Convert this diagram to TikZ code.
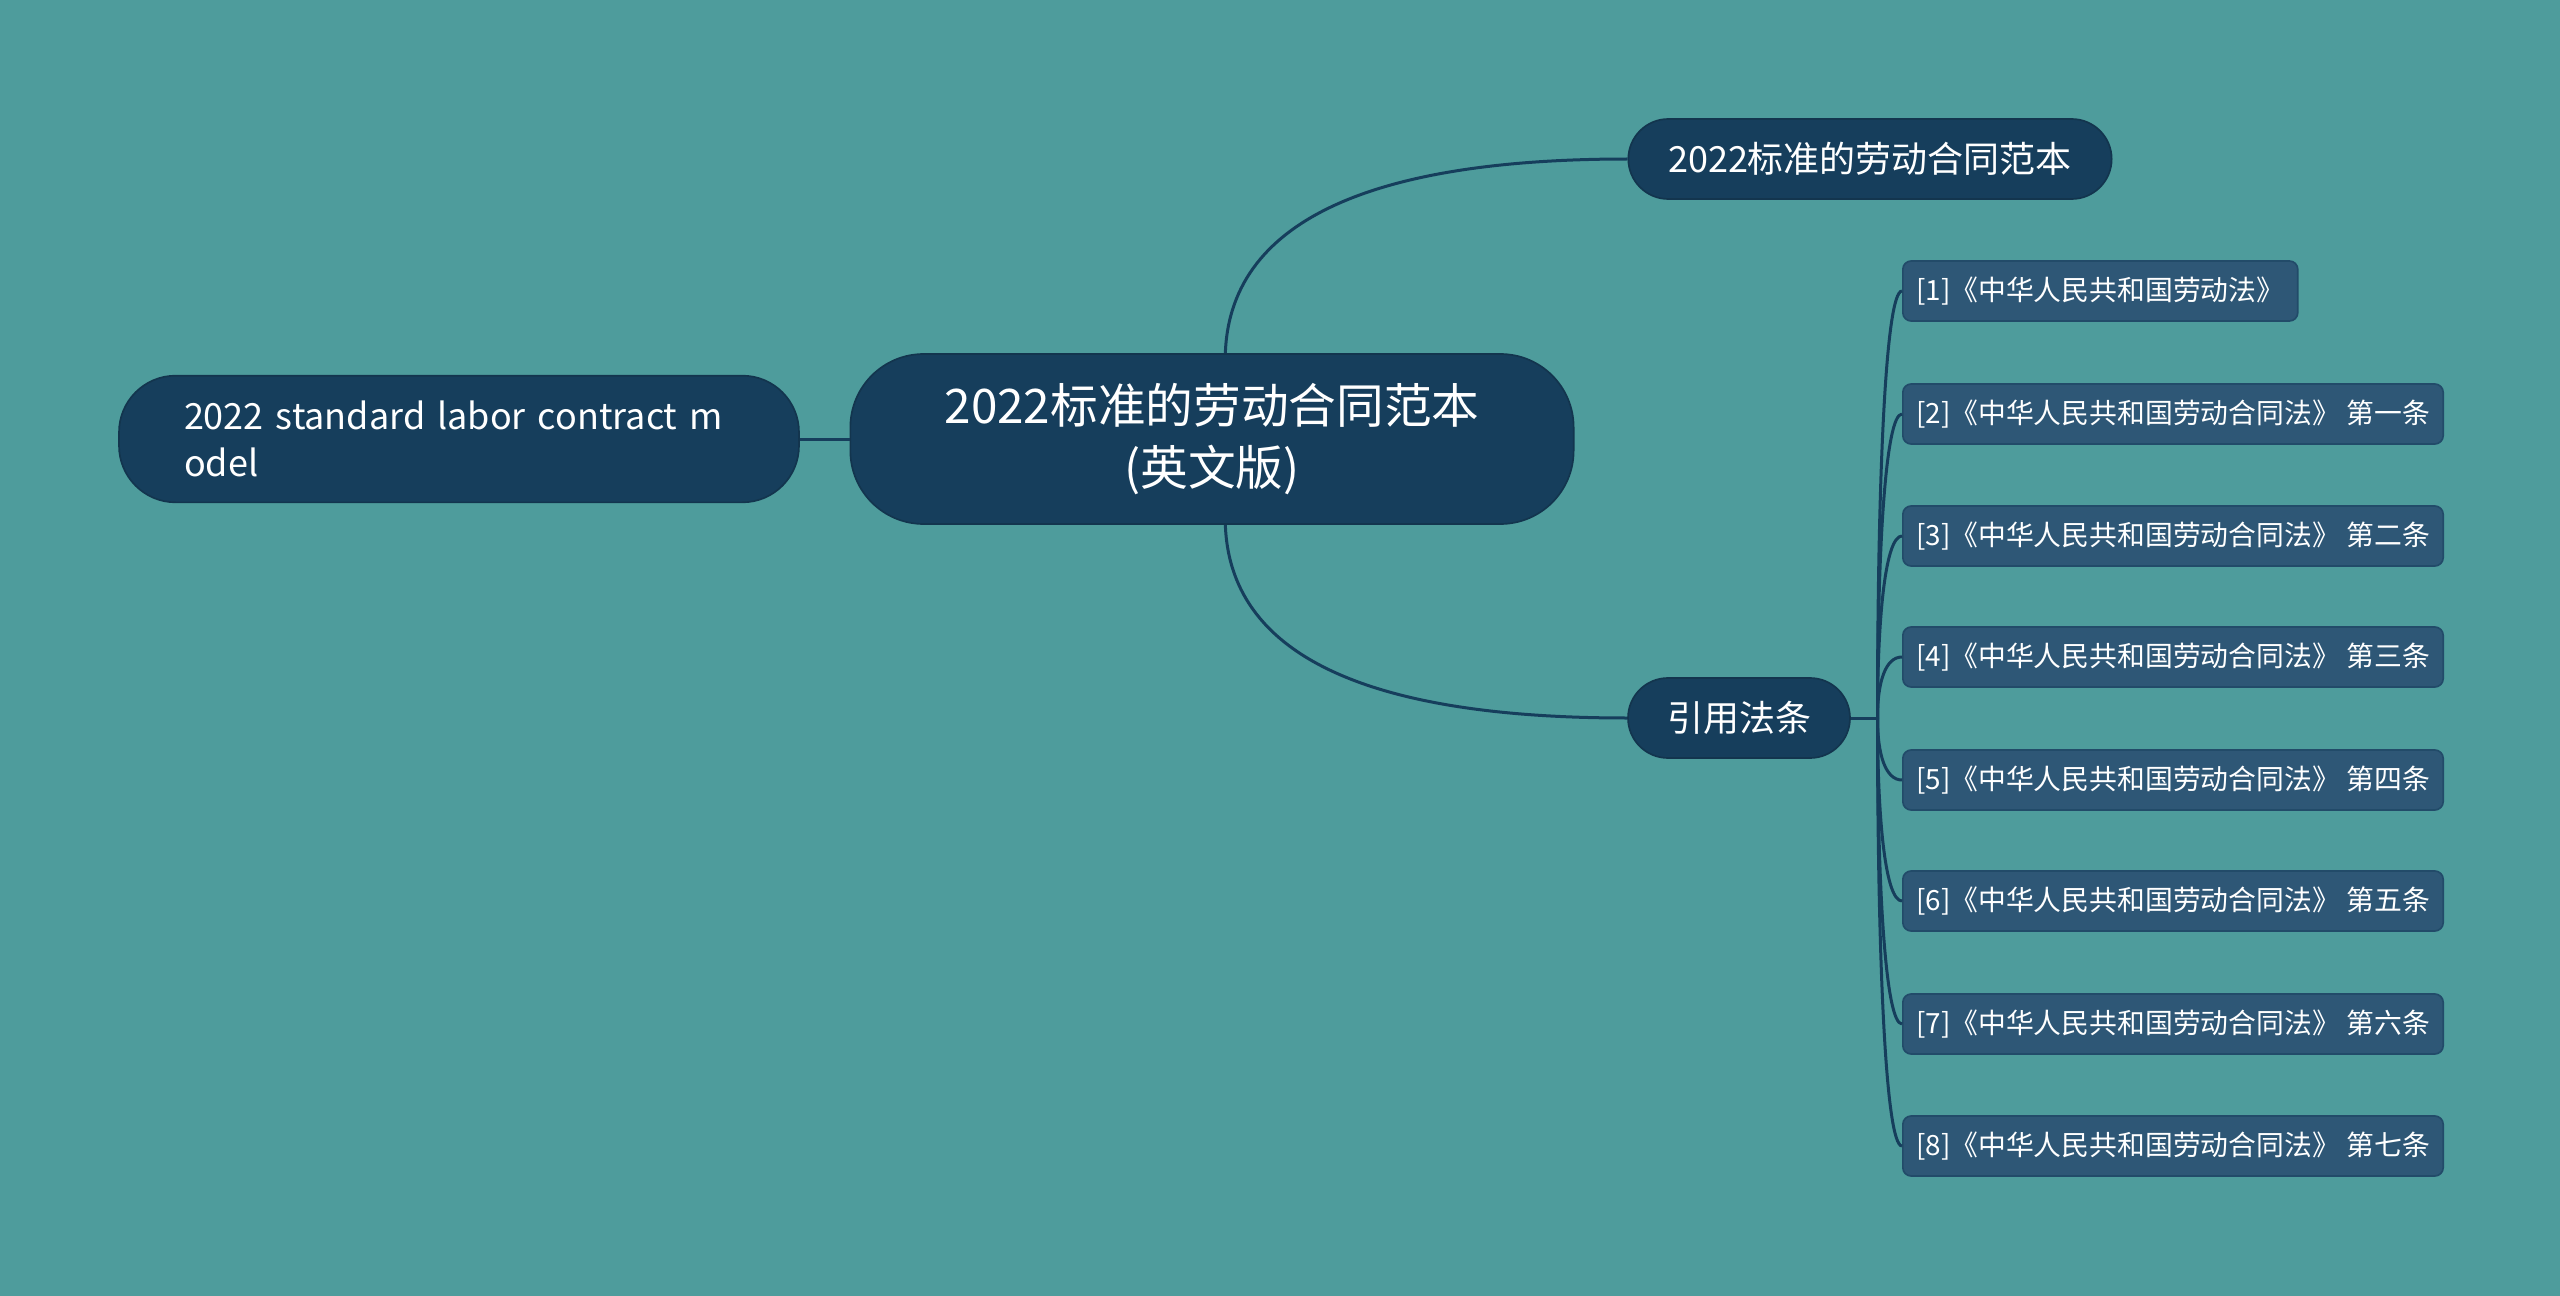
\documentclass[tikz,border=0pt]{standalone}
\usepackage{fontspec}
\setmainfont{Noto Sans CJK SC}
\usepackage{tikz}

\definecolor{bg}{HTML}{4E9C9C}
\definecolor{navy}{HTML}{163E5C}
\definecolor{leafblue}{HTML}{2E5776}

\begin{document}
\begin{tikzpicture}[
            x=0.3pt, y=-0.3pt,
            main node/.style={draw=navy!85!black,fill=navy,text=white,line width=0.5pt},
            leaf node/.style={draw=navy!50!leafblue,fill=leafblue,text=white,line width=0.5pt,
                rounded corners=2.5pt,minimum height=18pt,inner xsep=4pt,anchor=west,
                font=\fontsize{8.35}{10}\selectfont},
            link/.style={draw=navy,line width=0.9pt},
            ]
            \fill[bg] (0,0) rectangle (2560,1296);
            \useasboundingbox (0,0) rectangle (2560,1296);

            \node[main node, rounded corners=22pt, minimum width=217pt, minimum height=51pt,
                align=center, font=\fontsize{14.3}{18.5}\selectfont] (root) at (1212,439)
                {2022标准的劳动合同范本\\(英文版)};
            \node[main node, rounded corners=17pt, minimum width=204pt, minimum height=38pt,
                text width=165pt, align=left, font=\fontsize{10.8}{14.2}\selectfont] (left) at (459,439)
                {2022 standard labor contract m\\odel};
            \node[main node, rounded corners=12pt, minimum width=145pt, minimum height=24pt,
                font=\fontsize{10.8}{13}\selectfont] (top) at (1870,159) {2022标准的劳动合同范本};
            \node[main node, rounded corners=12pt, minimum width=66.6pt, minimum height=24pt,
                font=\fontsize{10.8}{13}\selectfont] (law) at (1739,718) {引用法条};

            % leaves
            \node[leaf node] (l1) at (1902,291) {[1]《中华人民共和国劳动法》};
            \node[leaf node] (l2) at (1902,414) {[2]《中华人民共和国劳动合同法》 第一条};
            \node[leaf node] (l3) at (1902,536) {[3]《中华人民共和国劳动合同法》 第二条};
            \node[leaf node] (l4) at (1902,657) {[4]《中华人民共和国劳动合同法》 第三条};
            \node[leaf node] (l5) at (1902,780) {[5]《中华人民共和国劳动合同法》 第四条};
            \node[leaf node] (l6) at (1902,901) {[6]《中华人民共和国劳动合同法》 第五条};
            \node[leaf node] (l7) at (1902,1024) {[7]《中华人民共和国劳动合同法》 第六条};
            \node[leaf node] (l8) at (1902,1146) {[8]《中华人民共和国劳动合同法》 第七条};

            \coordinate (hub) at ([xshift=8pt]law.east);

            \draw[link] (left.east) -- (root.west);
            \draw[link] ([xshift=4pt]root.north) .. controls +(5,-140) and +(-240,0) .. (top.west);
            \draw[link] ([xshift=4pt]root.south) .. controls +(5,140) and +(-240,0) .. (law.west);
            \draw[link] (law.east) -- (hub);
            \foreach \i in {1,2,3,4}
                \draw[link] (hub) to[out=90,in=180,looseness=1.4,in max distance=5pt] (l\i.west);
            \foreach \i in {5,6,7,8}
                \draw[link] (hub) to[out=-90,in=180,looseness=1.4,in max distance=5pt] (l\i.west);
        \end{tikzpicture}
\end{document}
